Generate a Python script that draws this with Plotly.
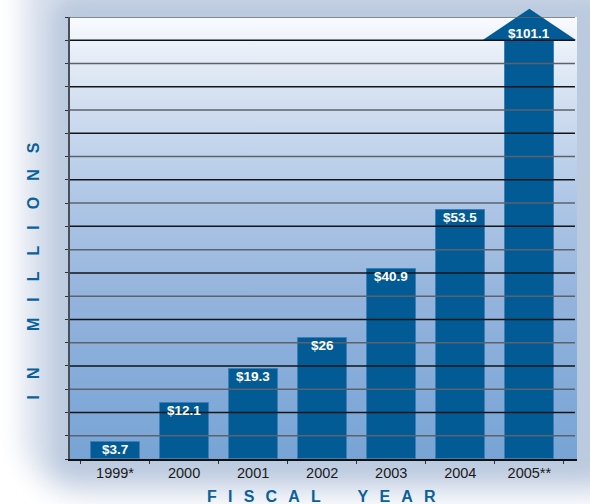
import urllib.parse
import plotly.graph_objects as go

# ---------------- data ----------------
years = ["1999*", "2000", "2001", "2002", "2003", "2004", "2005**"]
values = [3.7, 12.1, 19.3, 26.0, 40.9, 53.5, 101.1]
value_labels = ["$3.7", "$12.1", "$19.3", "$26", "$40.9", "$53.5", "$101.1"]
y_max = 95          # top of the value axis
y_cap = 90          # bars taller than this are cut here and capped with an arrow
grid_values = list(range(5, 100, 5))

# ---------------- style ----------------
W, H = 590, 504
ML, MR, MT, MB = 70, 13, 17, 45
PW, PH = W - ML - MR, H - MT - MB
BAR_COLOR = "#035b95"
TITLE_COLOR = "#0b5f9b"
FONT = "Liberation Sans, Arial, Helvetica, sans-serif"
ARROW_HALF = 0.68
ARROW_RISE = 6.8

shown = [min(v, y_cap) for v in values]


def svg_uri(svg):
    return "data:image/svg+xml;charset=utf-8," + urllib.parse.quote(svg)


outer_svg = f"""<svg xmlns='http://www.w3.org/2000/svg' width='{W}' height='{H}' viewBox='0 0 {W} {H}' preserveAspectRatio='none'>
<defs>
<filter id='b1' x='-30%' y='-30%' width='160%' height='160%'><feGaussianBlur stdDeviation='13'/></filter>
<filter id='b2' x='-30%' y='-30%' width='160%' height='160%'><feGaussianBlur stdDeviation='9'/></filter>
</defs>
<rect width='{W}' height='{H}' fill='#ffffff'/>
<rect x='24' y='-60' width='640' height='556' rx='60' fill='#d6deeb' filter='url(#b1)'/>
<rect x='52' y='-4' width='560' height='482' rx='24' fill='#bccadf' filter='url(#b2)'/>
</svg>"""

plot_svg = """<svg xmlns='http://www.w3.org/2000/svg' width='100' height='100' viewBox='0 0 100 100' preserveAspectRatio='none'>
<defs><linearGradient id='g' x1='0' y1='0' x2='0' y2='1'>
<stop offset='0' stop-color='#f9fbfe'/>
<stop offset='0.075' stop-color='#e9eff8'/>
<stop offset='0.19' stop-color='#d3dff0'/>
<stop offset='0.30' stop-color='#c1d4eb'/>
<stop offset='0.39' stop-color='#b2c9e7'/>
<stop offset='0.64' stop-color='#93b3dc'/>
<stop offset='1' stop-color='#77a4d5'/>
</linearGradient></defs>
<rect width='100' height='100' fill='url(#g)'/>
</svg>"""

fig = go.Figure()
fig.add_trace(go.Bar(
    x=years, y=shown, width=0.71,
    marker=dict(color=BAR_COLOR, line=dict(color="#3e7eb4", width=1)),
    hoverinfo="skip",
))

shapes = []
# arrows on bars that run off the scale
for i, v in enumerate(values):
    if v > y_cap:
        base = y_cap / y_max
        tip = (y_cap + ARROW_RISE) / y_max
        shapes.append(dict(
            type="path", xref="x", yref="paper", layer="above",
            path=f"M {i - ARROW_HALF},{base} L {i},{tip} L {i + ARROW_HALF},{base} Z",
            fillcolor=BAR_COLOR, line=dict(width=0),
        ))
# horizontal rules drawn over the bars
for g in grid_values:
    shapes.append(dict(
        type="line", xref="paper", yref="y", layer="above",
        x0=0, x1=0.996, y0=g, y1=g,
        line=dict(color="#121418" if g % 10 == 0 else "#5b626c", width=1.5),
    ))

annotations = []
for i, (v, s) in enumerate(zip(values, value_labels)):
    if v > y_cap:
        annotations.append(dict(x=i, y=y_cap, xref="x", yref="y", text=f"<b>{s}</b>",
                                showarrow=False, yanchor="bottom", yshift=-3,
                                font=dict(family=FONT, size=13.5, color="white")))
    else:
        annotations.append(dict(x=i, y=v, xref="x", yref="y", text=f"<b>{s}</b>",
                                showarrow=False, yanchor="top", yshift=2,
                                font=dict(family=FONT, size=13.5, color="white")))

em = "\u2003"
annotations.append(dict(
    x=(33 - ML) / PW, y=(PH + MT - 271.5) / PH, xref="paper", yref="paper",
    text="<b>" + em.join("IN") + em * 2 + "\u00a0" + em.join("MILLIONS") + "</b>",
    textangle=-90, showarrow=False, xanchor="center", yanchor="middle",
    font=dict(family=FONT, size=16, color=TITLE_COLOR),
))
tr = "\u2002\u2009"
annotations.append(dict(
    x=(321 - ML) / PW, y=(PH + MT - 497) / PH, xref="paper", yref="paper",
    text="<b>" + tr.join("FISCAL") + tr * 3 + "\u2009" + tr.join("YEAR") + "</b>",
    showarrow=False, xanchor="center", yanchor="middle",
    font=dict(family=FONT, size=16, color=TITLE_COLOR),
))

fig.update_layout(
    width=W, height=H,
    margin=dict(l=ML, r=MR, t=MT, b=MB, pad=0),
    paper_bgcolor="white", plot_bgcolor="rgba(0,0,0,0)",
    showlegend=False,
    shapes=shapes, annotations=annotations,
    images=[
        dict(source=svg_uri(outer_svg), xref="paper", yref="paper",
             x=-ML / PW, y=1 + MT / PH, sizex=W / PW, sizey=H / PH,
             xanchor="left", yanchor="top", sizing="stretch", layer="below"),
        dict(source=svg_uri(plot_svg), xref="paper", yref="paper",
             x=0, y=1, sizex=1, sizey=1,
             xanchor="left", yanchor="top", sizing="stretch", layer="below"),
    ],
    xaxis=dict(
        type="category", range=[-0.652, 6.69], tickson="boundaries",
        ticks="outside", ticklen=3, tickcolor="#333", tickwidth=1,
        showline=True, linecolor="#111", linewidth=1.5, showgrid=False,
        layer="above traces",
        tickfont=dict(family=FONT, size=14.5, color="#1a1a1a"),
    ),
    yaxis=dict(
        range=[0, y_max], tickvals=[0] + grid_values, showticklabels=False,
        ticks="outside", ticklen=3, tickcolor="#333", tickwidth=1,
        showline=True, linecolor="#4a4f57", linewidth=1.5, showgrid=False,
        zeroline=False, layer="above traces",
    ),
    bargap=0,
)

fig.write_html("out.html", config={"displayModeBar": False},
               post_script="document.body.style.margin='0';document.body.style.padding='0';")
